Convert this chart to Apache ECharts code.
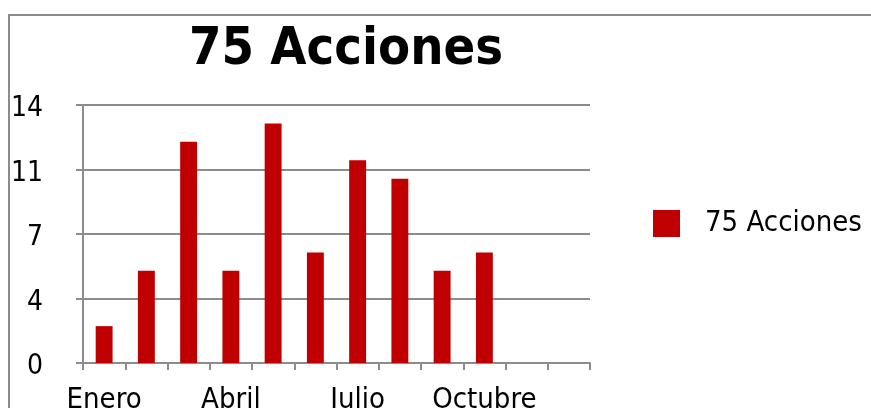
<!DOCTYPE html>
<html>
<head>
<meta charset="utf-8">
<script src="https://cdn.jsdelivr.net/npm/echarts@6/dist/echarts.min.js"></script>
<style>
  html, body { margin: 0; padding: 0; background: #fff; }
  #chart { width: 871px; height: 408px; }
</style>
</head>
<body>
<div id="chart"></div>
<script>
  // datos
  const meses = ['Enero', 'Febrero', 'Marzo', 'Abril', 'Mayo', 'Junio', 'Julio', 'Agosto', 'Septiembre', 'Octubre', 'Noviembre', 'Diciembre']
  const acciones = [2, 5, 12, 5, 13, 6, 11, 10, 5, 6, 0, 0]
  const serieNombre = '75 Acciones'
  const yMax = 14
  const yPaso = 3.5

  const fuente = "'DejaVu Sans Condensed', 'DejaVu Sans', Verdana, sans-serif"
  const gris = '#8c8c8c'

  const myChart = echarts.init(document.getElementById('chart'))
  myChart.setOption({
    animation: false,
    title: {
      text: serieNombre,
      left: 346,
      textAlign: 'center',
      top: 24,
      padding: 0,
      textStyle: { fontFamily: fuente, fontSize: 52, fontWeight: 'bold', color: '#000' }
    },
    legend: {
      data: [serieNombre],
      left: 653,
      top: 209,
      padding: 0,
      itemWidth: 27,
      itemHeight: 27,
      icon: 'rect',
      textStyle: { fontFamily: fuente, fontSize: 29, color: '#000', padding: [0, 0, 0, 20] }
    },
    graphic: [{
      type: 'rect',
      shape: { x: 9, y: 15, width: 1000, height: 600 },
      style: { fill: 'none', stroke: gris, lineWidth: 2 },
      silent: true
    }],
    grid: { left: 83, right: 281, top: 105, bottom: 45, outerBoundsMode: 'none', containLabel: false },
    xAxis: {
      type: 'category',
      data: meses,
      boundaryGap: true,
      axisLine: { lineStyle: { color: gris, width: 2 } },
      axisTick: { show: true, interval: 0, length: 7, lineStyle: { color: gris, width: 2 } },
      axisLabel: {
        interval: 2,
        margin: 23,
        fontFamily: fuente,
        fontSize: 29,
        color: '#000'
      },
      splitLine: { show: false }
    },
    yAxis: {
      type: 'value',
      min: 0,
      max: yMax,
      interval: yPaso,
      axisLine: { show: true, lineStyle: { color: gris, width: 2 } },
      axisTick: { show: true, length: 7, lineStyle: { color: gris, width: 2 } },
      axisLabel: {
        margin: 40,
        color: '#000',
        formatter: (v) => '{n|' + Math.round(v) + '}',
        rich: {
          n: { fontFamily: fuente, fontSize: 28, color: '#000', padding: [8, 0, 0, 0] }
        }
      },
      splitLine: { show: true, lineStyle: { color: gris, width: 2 } }
    },
    series: [{
      name: serieNombre,
      type: 'bar',
      data: acciones,
      barWidth: '40%',
      itemStyle: { color: '#c00000' }
    }]
  })
</script>
</body>
</html>
